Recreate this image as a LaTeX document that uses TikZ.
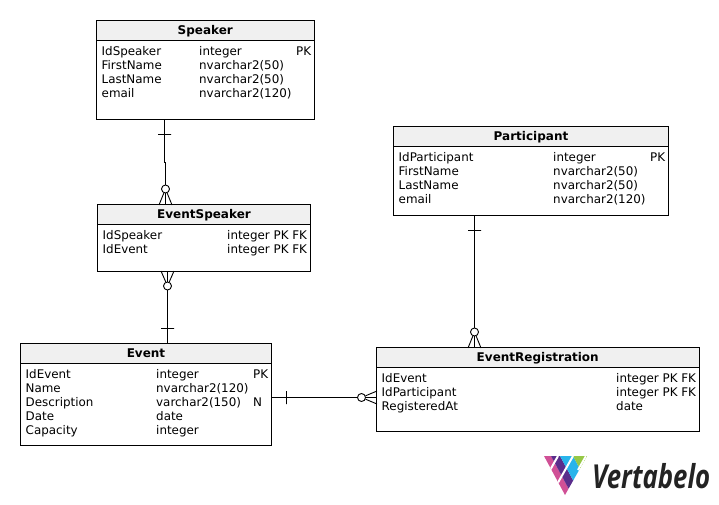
\documentclass[tikz,border=0pt]{standalone}
\usepackage{fontspec}
\setmainfont{DejaVu Sans}
\newfontfamily\logofont{Open Sans}
\usetikzlibrary{positioning, calc}
\definecolor{headgray}{RGB}{240, 240, 240}
\definecolor{logopink}{RGB}{208, 80, 150}
\definecolor{logopurple}{RGB}{90, 45, 140}
\definecolor{logoblue}{RGB}{40, 180, 235}
\definecolor{logogreen}{RGB}{150, 200, 70}
\definecolor{logotext}{RGB}{35, 35, 35}

\begin{document}
\begin{tikzpicture}[x=1pt, y=-1pt,
    tablebox/.style={rectangle, draw, line width=0.9pt, anchor=north west, inner sep=0pt, outer sep=0pt},
    headbox/.style={rectangle, draw, line width=0.9pt, fill=headgray, anchor=north west, inner sep=0pt, outer sep=0pt,
                    minimum height=19.5pt, text height=9.5pt, text depth=1pt, font=\fontsize{12}{14}\selectfont\bfseries},
    coltext/.style={anchor=north west, inner sep=0pt, align=left, font=\fontsize{11.9}{14}\selectfont},
    link/.style={line width=0.9pt},
    barmark/.style={rectangle, draw, line width=0.9pt, inner sep=0pt, minimum height=0pt, minimum width=13pt},
    barside/.style={rectangle, draw, line width=0.9pt, inner sep=0pt, minimum width=0pt, minimum height=13pt},
    ringmark/.style={circle, draw, line width=0.9pt, fill=white, inner sep=0pt, minimum size=8pt}]

    \useasboundingbox (0, 0) rectangle (719, 505);

    % Speaker
    \node[tablebox, minimum width=217.5pt, minimum height=99pt] (Speaker) at (96.5, 20.5) {};
    \node[headbox, minimum width=217.5pt] (SpeakerHead) at (96.5, 20.5) {Speaker};
    \node[coltext] (SpeakerNames) at (101.5, 46) {IdSpeaker\\FirstName\\LastName\\email};
    \node[coltext] (SpeakerTypes) at (199, 46) {integer\\nvarchar2(50)\\nvarchar2(50)\\nvarchar2(120)};
    \node[coltext] (SpeakerKeys) at (296, 46) {\vphantom{d}PK};

    % EventSpeaker
    \node[tablebox, minimum width=213pt, minimum height=67pt] (EventSpeaker) at (97.5, 204.5) {};
    \node[headbox, minimum width=213pt] (EventSpeakerHead) at (97.5, 204.5) {EventSpeaker};
    \node[coltext] (EventSpeakerNames) at (102.5, 230) {IdSpeaker\\IdEvent};
    \node[coltext] (EventSpeakerTypes) at (227, 230) {integer PK FK\\integer PK FK};

    % Event
    \node[tablebox, minimum width=251pt, minimum height=102pt] (Event) at (20.5, 343.5) {};
    \node[headbox, minimum width=251pt] (EventHead) at (20.5, 343.5) {Event};
    \node[coltext] (EventNames) at (25.5, 369) {IdEvent\\Name\\Description\\Date\\Capacity};
    \node[coltext] (EventTypes) at (156, 369) {integer\\nvarchar2(120)\\varchar2(150)\\date\\integer};
    \node[coltext] (EventKeys) at (253, 369) {\vphantom{d}PK\\\\N};

    % Participant
    \node[tablebox, minimum width=275pt, minimum height=89pt] (Participant) at (393.5, 126.5) {};
    \node[headbox, minimum width=275pt] (ParticipantHead) at (393.5, 126.5) {Participant};
    \node[coltext] (ParticipantNames) at (398.5, 152) {IdParticipant\\FirstName\\LastName\\email};
    \node[coltext] (ParticipantTypes) at (553, 152) {integer\\nvarchar2(50)\\nvarchar2(50)\\nvarchar2(120)};
    \node[coltext] (ParticipantKeys) at (650, 152) {\vphantom{d}PK};

    % EventRegistration
    \node[tablebox, minimum width=322.5pt, minimum height=84pt] (EventRegistration) at (376.5, 347.5) {};
    \node[headbox, minimum width=322.5pt] (EventRegistrationHead) at (376.5, 347.5) {EventRegistration};
    \node[coltext] (EventRegistrationNames) at (381.5, 373) {IdEvent\\IdParticipant\\RegisteredAt};
    \node[coltext] (EventRegistrationTypes) at (616, 373) {integer PK FK\\integer PK FK\\date};

    % Speaker to EventSpeaker
    \coordinate (SpOut) at (164.5, 119.5);
    \coordinate (SpBend) at (164.5, 162);
    \coordinate (SpTurn) at (165.5, 162);
    \coordinate (SpIn) at (165.5, 205);
    \coordinate (SpFootL) at (159, 205);
    \coordinate (SpFootR) at (172, 205);
    \node[barmark] (SpBar) at (164.5, 134.5) {};
    \node[ringmark] (SpRing) at (165.5, 189) {};
    \draw[link] (SpOut) -- (SpBend) -- (SpTurn) -- (SpRing);
    \draw[link] (SpRing) -- (SpIn);
    \draw[link] (SpRing) -- (SpFootL);
    \draw[link] (SpRing) -- (SpFootR);

    % EventSpeaker to Event
    \coordinate (EsOut) at (167.5, 271);
    \coordinate (EsFootL) at (161, 271);
    \coordinate (EsFootR) at (174, 271);
    \coordinate (EsIn) at (167.5, 344);
    \node[barmark] (EsBar) at (167.5, 328.5) {};
    \node[ringmark] (EsRing) at (167.5, 286) {};
    \draw[link] (EsOut) -- (EsRing);
    \draw[link] (EsRing) -- (EsFootL);
    \draw[link] (EsRing) -- (EsFootR);
    \draw[link] (EsRing) -- (EsIn);

    % Participant to EventRegistration
    \coordinate (PaOut) at (474.5, 215);
    \coordinate (PaIn) at (474.5, 348);
    \coordinate (PaFootL) at (468, 348);
    \coordinate (PaFootR) at (481, 348);
    \node[barmark] (PaBar) at (474.5, 230.5) {};
    \node[ringmark] (PaRing) at (474.5, 332) {};
    \draw[link] (PaOut) -- (PaRing);
    \draw[link] (PaRing) -- (PaIn);
    \draw[link] (PaRing) -- (PaFootL);
    \draw[link] (PaRing) -- (PaFootR);

    % Event to EventRegistration
    \coordinate (EvOut) at (271.5, 397.5);
    \coordinate (EvIn) at (377, 397.5);
    \coordinate (EvFootT) at (377, 391);
    \coordinate (EvFootB) at (377, 404);
    \node[barside] (EvBar) at (286.5, 397.5) {};
    \node[ringmark] (EvRing) at (361.5, 397.5) {};
    \draw[link] (EvOut) -- (EvRing);
    \draw[link] (EvRing) -- (EvIn);
    \draw[link] (EvRing) -- (EvFootT);
    \draw[link] (EvRing) -- (EvFootB);

    % Logo
    \begin{scope}
        \clip (544, 456) -- (587, 456) -- (565, 495) -- cycle;
        \fill[logopink] (544, 456) -- (551, 456) -- (572, 495) -- (565, 495) -- cycle;
        \fill[logopurple] (551, 456) -- (560, 456) -- (581, 495) -- (572, 495) -- cycle;
        \fill[logoblue] (560, 456) -- (573, 456) -- (594, 495) -- (581, 495) -- cycle;
        \fill[logogreen] (573, 456) -- (590, 456) -- (611, 495) -- (594, 495) -- cycle;
        \draw[white, line width=2pt] (558, 456) -- (536, 495);
        \draw[white, line width=2pt] (573, 456) -- (551, 495);
        \draw[white, line width=2pt] (586, 456) -- (578, 470);
    \end{scope}
    \node[anchor=base west, inner sep=0pt, text=logotext, xscale=0.78, font=\fontsize{33}{33}\logofont\bfseries\itshape] (LogoText) at (592, 488) {Vertabelo};
\end{tikzpicture}
\end{document}
